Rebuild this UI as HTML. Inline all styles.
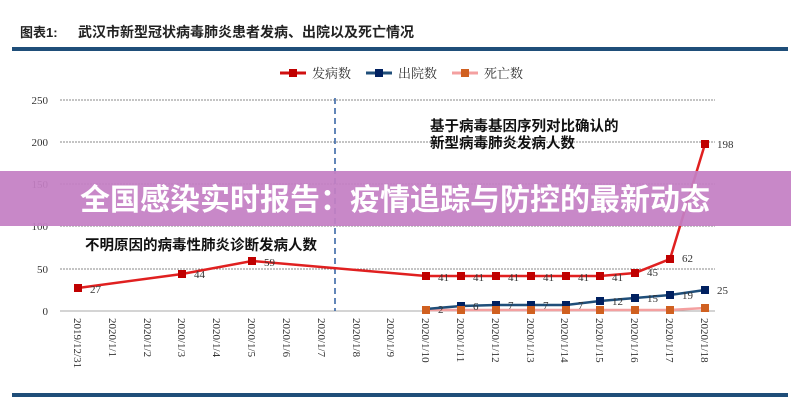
<!DOCTYPE html>
<html><head><meta charset="utf-8"><style>
body{margin:0;background:#fff;width:791px;height:400px;overflow:hidden}
</style></head><body>
<svg width="791" height="400" xmlns="http://www.w3.org/2000/svg" style="position:absolute;left:0;top:0">
<text x="20" y="37" font-family="Liberation Sans,Noto Sans CJK SC,sans-serif" font-size="13" font-weight="bold" fill="#222">图表1:</text>
<text x="78" y="37" font-family="Liberation Sans,Noto Sans CJK SC,sans-serif" font-size="14" font-weight="bold" fill="#222">武汉市新型冠状病毒肺炎患者发病、出院以及死亡情况</text>
<rect x="12" y="47" width="776" height="4" fill="#1f4e79"/>
<rect x="12" y="393" width="776" height="4" fill="#1f4e79"/>

<g font-family="Liberation Serif,Noto Serif CJK SC,serif" font-size="13" fill="#333">
<line x1="280" y1="73" x2="306" y2="73" stroke="#d01010" stroke-width="3"/><rect x="289" y="69" width="8" height="8" fill="#c00000"/><text x="312" y="78">发病数</text>
<line x1="366" y1="73" x2="392" y2="73" stroke="#1f4e79" stroke-width="3"/><rect x="375" y="69" width="8" height="8" fill="#002060"/><text x="398" y="78">出院数</text>
<line x1="452" y1="73" x2="478" y2="73" stroke="#f4a0a0" stroke-width="3"/><rect x="461" y="69" width="8" height="8" fill="#d06020"/><text x="484" y="78">死亡数</text>
</g>

<g stroke="#888" stroke-width="1" stroke-dasharray="2,1">
<line x1="60" y1="100" x2="715" y2="100"/><line x1="60" y1="142" x2="715" y2="142"/><line x1="60" y1="184" x2="715" y2="184"/><line x1="60" y1="226" x2="715" y2="226"/><line x1="60" y1="269" x2="715" y2="269"/>
</g>
<line x1="60" y1="311" x2="715" y2="311" stroke="#aaa"/>
<g font-family="Liberation Serif,serif" font-size="11" fill="#333" text-anchor="end">
<text x="48" y="104">250</text><text x="48" y="146">200</text><text x="48" y="188">150</text><text x="48" y="230">100</text><text x="48" y="273">50</text><text x="48" y="315">0</text>
</g>
<line x1="335" y1="98" x2="335" y2="311" stroke="#2e5fa0" stroke-width="1.5" stroke-dasharray="6,4"/>

<g font-family="Liberation Serif,serif" font-size="11" fill="#333">
<text transform="translate(74,318) rotate(90)">2019/12/31</text>
<text transform="translate(109,318) rotate(90)">2020/1/1</text>
<text transform="translate(144,318) rotate(90)">2020/1/2</text>
<text transform="translate(178,318) rotate(90)">2020/1/3</text>
<text transform="translate(213,318) rotate(90)">2020/1/4</text>
<text transform="translate(248,318) rotate(90)">2020/1/5</text>
<text transform="translate(283,318) rotate(90)">2020/1/6</text>
<text transform="translate(318,318) rotate(90)">2020/1/7</text>
<text transform="translate(353,318) rotate(90)">2020/1/8</text>
<text transform="translate(387,318) rotate(90)">2020/1/9</text>
<text transform="translate(422,318) rotate(90)">2020/1/10</text>
<text transform="translate(457,318) rotate(90)">2020/1/11</text>
<text transform="translate(492,318) rotate(90)">2020/1/12</text>
<text transform="translate(527,318) rotate(90)">2020/1/13</text>
<text transform="translate(561,318) rotate(90)">2020/1/14</text>
<text transform="translate(596,318) rotate(90)">2020/1/15</text>
<text transform="translate(631,318) rotate(90)">2020/1/16</text>
<text transform="translate(666,318) rotate(90)">2020/1/17</text>
<text transform="translate(701,318) rotate(90)">2020/1/18</text>
</g>

<polyline fill="none" stroke="#f4a0a0" stroke-width="2.5" points="426,310 461,310 496,310 531,310 566,310 600,310 635,310 670,310 705,308"/>
<polyline fill="none" stroke="#1f4e79" stroke-width="2.5" points="426,309 461,306 496,305 531,305 566,305 600,301 635,298 670,295 705,290"/>
<polyline fill="none" stroke="#e02020" stroke-width="2.5" points="78,288 182,274 252,261 426,276 461,276 496,276 531,276 566,276 600,276 635,273 670,259 705,144"/>

<g fill="#c00000">
<rect x="74" y="284" width="8" height="8"/><rect x="178" y="270" width="8" height="8"/><rect x="248" y="257" width="8" height="8"/>
<rect x="422" y="272" width="8" height="8"/><rect x="457" y="272" width="8" height="8"/><rect x="492" y="272" width="8" height="8"/><rect x="527" y="272" width="8" height="8"/><rect x="562" y="272" width="8" height="8"/><rect x="596" y="272" width="8" height="8"/><rect x="631" y="269" width="8" height="8"/><rect x="666" y="255" width="8" height="8"/><rect x="701" y="140" width="8" height="8"/>
</g>
<g fill="#002060">
<rect x="457" y="302" width="8" height="8"/><rect x="492" y="301" width="8" height="8"/><rect x="527" y="301" width="8" height="8"/><rect x="562" y="301" width="8" height="8"/><rect x="596" y="297" width="8" height="8"/><rect x="631" y="294" width="8" height="8"/><rect x="666" y="291" width="8" height="8"/><rect x="701" y="286" width="8" height="8"/>
</g>
<g fill="#d06020">
<rect x="422" y="306" width="8" height="8"/><rect x="457" y="306" width="8" height="8"/><rect x="492" y="306" width="8" height="8"/><rect x="527" y="306" width="8" height="8"/><rect x="562" y="306" width="8" height="8"/><rect x="596" y="306" width="8" height="8"/><rect x="631" y="306" width="8" height="8"/><rect x="666" y="306" width="8" height="8"/><rect x="701" y="304" width="8" height="8"/>
</g>

<g font-family="Liberation Serif,serif" font-size="11" fill="#333">
<text x="90" y="293">27</text><text x="194" y="278">44</text><text x="264" y="266">59</text>
<text x="438" y="281">41</text><text x="473" y="281">41</text><text x="508" y="281">41</text><text x="543" y="281">41</text><text x="578" y="281">41</text><text x="612" y="281">41</text><text x="647" y="276">45</text><text x="682" y="262">62</text><text x="717" y="148">198</text>
<text x="438" y="313">2</text><text x="473" y="310">6</text><text x="508" y="309">7</text><text x="543" y="309">7</text><text x="578" y="309">7</text><text x="612" y="305">12</text><text x="647" y="302">15</text><text x="682" y="299">19</text><text x="717" y="294">25</text>
</g>

<g font-family="Liberation Sans,Noto Sans CJK SC,sans-serif" font-size="14.5" font-weight="bold" fill="#111">
<text x="430" y="131">基于病毒基因序列对比确认的</text>
<text x="430" y="148">新型病毒肺炎发病人数</text>
<text x="85" y="250">不明原因的病毒性肺炎诊断发病人数</text>
</g>

<rect x="0" y="171" width="791" height="55" fill="#c47fc4" opacity="0.93"/>
<text x="395" y="210" text-anchor="middle" font-family="Liberation Sans,Noto Sans CJK SC,sans-serif" font-size="30" font-weight="bold" fill="#fff">全国感染实时报告：疫情追踪与防控的最新动态</text>
</svg>
</body></html>
